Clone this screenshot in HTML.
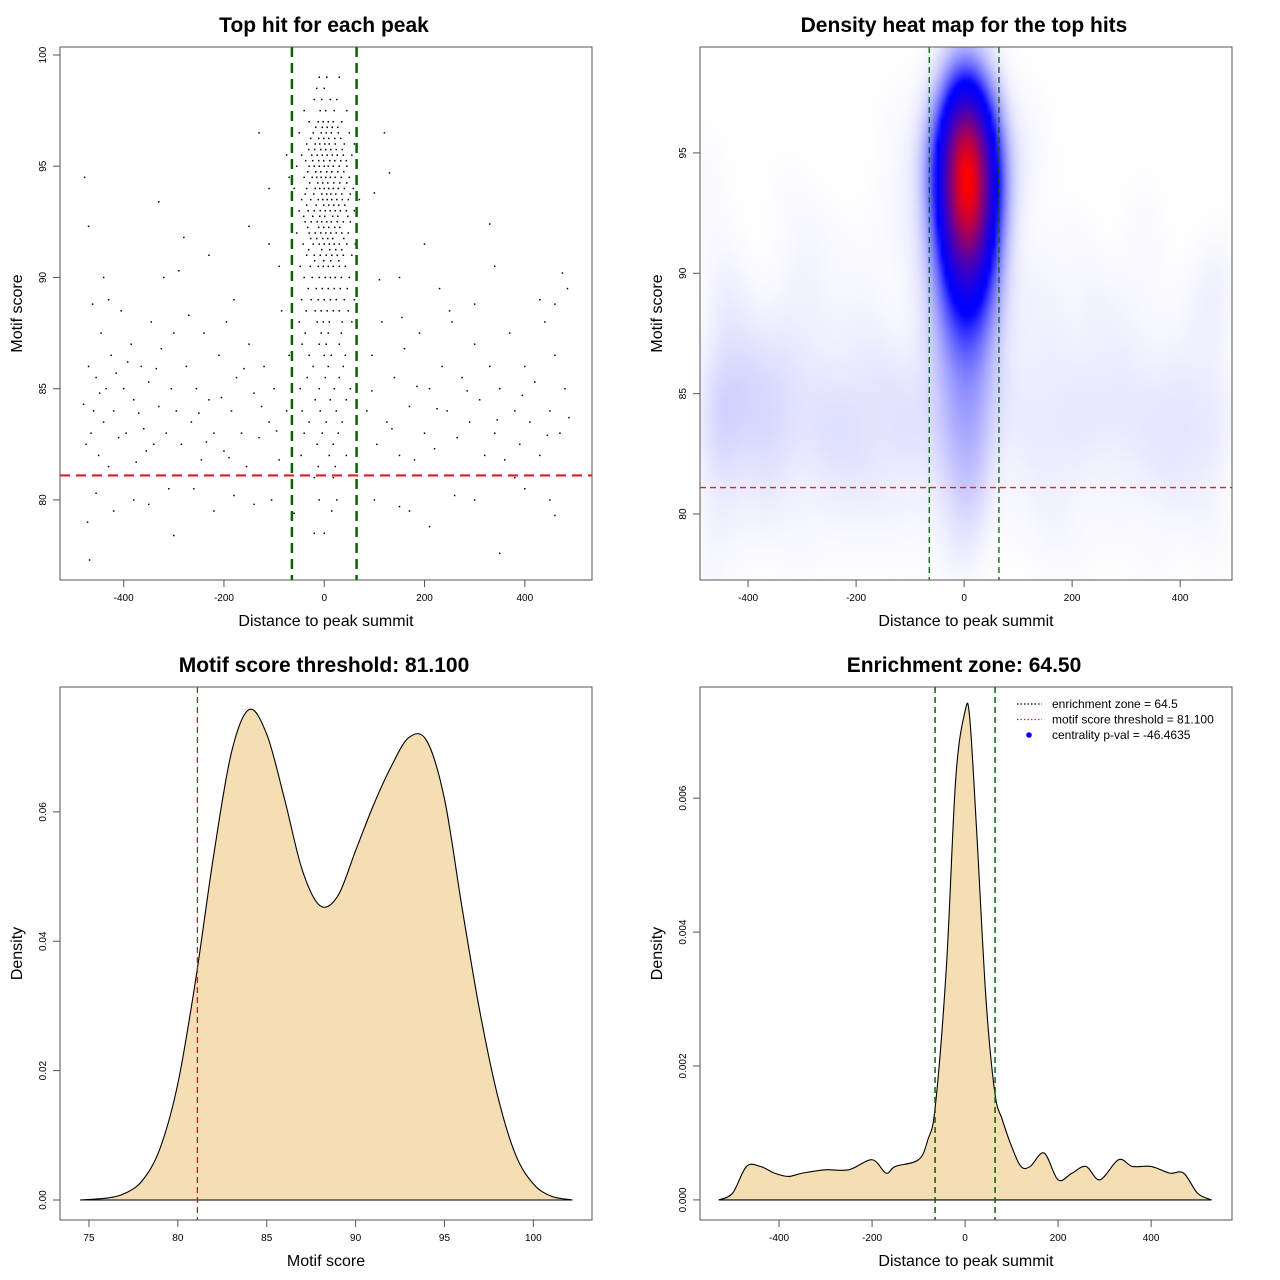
<!DOCTYPE html>
<html><head><meta charset="utf-8"><style>
body{margin:0;background:#fff}
svg text{font-family:"Liberation Sans",sans-serif}
</style></head><body>
<div style="position:relative;width:1280px;height:1280px">
<canvas id="heat" width="133" height="133" style="position:absolute;left:700px;top:47px;width:532px;height:533px"></canvas>
<svg id="fig" width="1280" height="1280" style="position:absolute;left:0;top:0"></svg>
</div>
<script>
// ---------- data ----------
const bgPoints=[[-480,84.3],[-475,82.5],[-470,86],[-465,83],[-460,84],[-455,85.5],[-450,82],[-445,87.5],[-440,83.5],[-435,85],[-430,81.5],[-425,86.5],[-420,84],[-410,82.8],[-405,88.5],[-400,85],[-395,83],[-385,87],[-380,84.5],[-375,81.7],[-365,86],[-360,83.2],[-350,85.3],[-345,88],[-340,82.5],[-330,84.2],[-325,86.8],[-315,83],[-310,80.5],[-305,85],[-300,87.5],[-478,94.5],[-470,92.3],[-472,79],[-468,77.3],[-455,80.3],[-430,89],[-420,79.5],[-380,80],[-350,79.8],[-330,93.4],[-320,90],[-290,90.3],[-280,91.8],[-270,88.3],[-440,90],[-462,88.8],[-448,84.8],[-415,85.7],[-392,86.2],[-370,83.9],[-355,82.2],[-335,85.9],[-295,84],[-285,82.5],[-275,86],[-265,83.5],[-255,85],[-245,81.8],[-240,87.5],[-230,84.5],[-220,83],[-210,86.5],[-200,82.2],[-195,88],[-185,84],[-175,85.5],[-165,83],[-155,81.5],[-150,87],[-140,84.8],[-130,82.8],[-120,86],[-110,83.5],[-100,85],[-90,81.8],[-85,88.5],[-75,84],[-70,86.5],[-260,80.5],[-220,79.5],[-180,80.2],[-140,79.8],[-105,80],[-60,79.4],[-300,78.4],[-230,91],[-180,89],[-110,91.5],[-90,90.5],[-150,92.3],[-70,94.5],[-130,96.5],[-75,95.5],[-110,94],[-250,83.9],[-205,84.6],[-160,85.9],[-125,84.2],[-95,83.1],[-235,82.6],[-190,81.9],[85,84],[95,86.5],[105,82.5],[115,88],[125,83.5],[140,85.5],[150,82],[160,86.8],[170,84.2],[180,81.8],[190,87.5],[200,83],[210,85],[220,82.3],[235,86],[245,84],[255,88],[265,82.8],[275,85.5],[290,83.5],[300,87],[310,84.5],[320,82],[330,86],[340,83],[350,85],[360,81.8],[370,87.5],[380,84],[390,82.5],[400,86],[410,83.5],[420,85.3],[430,82],[440,88],[450,84],[460,86.5],[470,83],[480,85],[485,89.5],[475,90.2],[460,88.8],[430,89],[330,92.4],[340,90.5],[300,88.8],[200,91.5],[150,90],[130,94.7],[120,96.5],[100,93.8],[170,79.5],[210,78.8],[260,80.2],[300,80],[350,77.6],[380,81],[450,80],[100,80],[150,79.7],[400,80.5],[460,79.3],[230,89.5],[250,88.5],[95,84.9],[135,83.2],[185,85.1],[225,84.1],[285,84.9],[345,83.6],[395,84.7],[445,82.9],[488,83.7],[155,88.2],[110,89.9]];
const clusterRows=[[99,[-10,5,30]],[98.5,[-15,0]],[98,[-20,-5,12,25]],[97.5,[-40,-8,3,20,45]],[97,[-30,-12,-2,8,18,35]],[96.75,[-17,-4,6,16,27]],[96.5,[-50,-22,-6,4,14,28,50]],[96.25,[-27,-11,-1,9,21,33]],[96,[-35,-18,-9,1,10,22,40,60]],[95.75,[-31,-19,-7,3,13,24,36]],[95.5,[-45,-25,-14,-4,6,16,26,38,55]],[95.25,[-37,-23,-11,-1,11,21,33,44]],[95,[-55,-30,-20,-10,0,8,18,30,45,65]],[94.75,[-33,-17,-7,5,15,27,39]],[94.5,[-40,-24,-15,-6,3,12,22,34,50]],[94.25,[-29,-13,-3,7,19,31,45]],[94,[-60,-35,-18,-9,0,9,18,28,40,58]],[93.75,[-38,-21,-5,5,13,23,35,52]],[93.5,[-45,-27,-12,-3,6,15,25,36,48,70]],[93.25,[-35,-16,-1,9,19,29,41]],[93,[-50,-32,-20,-8,2,12,22,32,44,60]],[92.75,[-41,-23,-9,1,17,27,47]],[92.5,[-38,-26,-14,-5,5,14,26,38,52]],[92.25,[-33,-11,-1,9,21,31]],[92,[-55,-30,-18,-7,3,13,24,35,48]],[91.75,[-27,-15,-3,7,17,39]],[91.5,[-42,-22,-10,0,10,20,30,45,62]],[91.25,[-31,-5,11,23,35]],[91,[-35,-20,-8,4,15,26,38,55]],[90.75,[-19,-1,13,29]],[90.5,[-48,-28,-12,-2,8,18,30,42]],[90,[-40,-24,-10,2,12,22,34,50]],[89.5,[-32,-16,-4,8,20,32,46]],[89,[-45,-26,-12,0,12,24,40,60]],[88.5,[-36,-18,-6,6,18,30,48]],[88,[-50,-14,-2,10,36,55]],[87.5,[-38,-6,8,34]],[87,[-44,-10,4,30]],[86.5,[-30,0,14,42]],[86,[-22,8,38]],[85.5,[-34,2,30]],[85,[-48,-10,20,52]],[84.5,[-18,12,44]],[84,[-44,-8,24]],[83.5,[-30,4,36]],[83,[-40,-4,28]],[82.5,[-14,18]],[82,[-46,10,44]],[81.5,[-12,22]],[81,[-20,18]],[80,[-10,25]],[79.5,[15]],[78.5,[0,-20]]];
const scoreX=[74.5,76,77,78,79,80,81,82,83,84,85,86,87,88,89,90,91,92,93,94,95,96,97,98,99,100,101,102.2];
const scoreDensity=[0,0.0003,0.001,0.003,0.008,0.018,0.034,0.053,0.069,0.0758,0.072,0.062,0.051,0.0455,0.047,0.054,0.061,0.067,0.0715,0.071,0.062,0.045,0.029,0.016,0.007,0.0025,0.0006,0];
const distX=[-530,-500,-470,-440,-410,-380,-350,-300,-250,-200,-170,-150,-100,-80,-64,-40,-20,0,10,25,45,64,80,100,120,140,170,200,230,260,290,330,360,400,440,470,500,530];
const distDensity=[0,0.0001,0.0005,0.0005,0.0004,0.00035,0.0004,0.00045,0.00045,0.0006,0.0004,0.0005,0.0006,0.0009,0.0014,0.0035,0.0063,0.0073,0.0072,0.0055,0.003,0.0016,0.0012,0.0008,0.0005,0.0005,0.0007,0.0003,0.0004,0.0005,0.0003,0.0006,0.0005,0.0005,0.0004,0.0004,0.0001,0];
const xTicksDist=[-400,-200,0,200,400];
const scoreThreshold=81.1, zone=64.5;

// ---------- helpers ----------
const NS="http://www.w3.org/2000/svg", svg=document.getElementById('fig');
function el(tag,attrs,parent,text){const e=document.createElementNS(NS,tag);for(const k in attrs)e.setAttribute(k,attrs[k]);if(text!==undefined)e.textContent=text;(parent||svg).appendChild(e);return e;}
function panel(p){p.sx=v=>p.l+(v-p.x0)/(p.x1-p.x0)*p.w;p.sy=v=>p.t+p.h-(v-p.y0)/(p.y1-p.y0)*p.h;return p;}
function axes(p,name,title,xlab,ylab,xt,yt,yfmt){
  const g=el('g',{},svg);
  const box=el('rect',{x:p.l,y:p.t,width:p.w,height:p.h,fill:'none',stroke:'#555','stroke-width':1},g);
  
  const xa=el('g',{},g);
  const b=p.t+p.h;
  el('line',{x1:p.sx(xt[0]),x2:p.sx(xt[xt.length-1]),y1:b,y2:b,stroke:'#555'},xa);
  xt.forEach(v=>{el('line',{x1:p.sx(v),x2:p.sx(v),y1:b,y2:b+7,stroke:'#555'},xa);
    const t=el('text',{x:p.sx(v),y:b+21,'font-size':10,'text-anchor':'middle'},xa,String(v));});
  const ya=el('g',{},g);
  el('line',{x1:p.l,x2:p.l,y1:p.sy(yt[0]),y2:p.sy(yt[yt.length-1]),stroke:'#555'},ya);
  yt.forEach(v=>{const y=p.sy(v);el('line',{x1:p.l-7,x2:p.l,y1:y,y2:y,stroke:'#555'},ya);
    const t=el('text',{x:p.l-14,y:y,'font-size':10,'text-anchor':'middle',transform:`rotate(-90 ${p.l-14} ${y})`},ya,yfmt(v));});
  const tt=el('text',{x:p.l+p.w/2-2,y:p.t-15,'font-size':21,'font-weight':'bold','text-anchor':'middle'},g,title);
  const xl=el('text',{x:p.l+p.w/2,y:b+46,'font-size':16,'text-anchor':'middle'},g,xlab);
  const yx=p.l-38,yy=p.t+p.h/2;
  const yl=el('text',{x:yx,y:yy,'font-size':16,'text-anchor':'middle',transform:`rotate(-90 ${yx} ${yy})`},g,ylab);
  return g;
}
function hline(p,v,col,w,dash,name){const l=el('line',{x1:p.l,x2:p.l+p.w,y1:p.sy(v),y2:p.sy(v),stroke:col,'stroke-width':w,'stroke-dasharray':dash});}
function vline(p,v,col,w,dash,name){const l=el('line',{x1:p.sx(v),x2:p.sx(v),y1:p.t,y2:p.t+p.h,stroke:col,'stroke-width':w,'stroke-dasharray':dash});}
function dens(p,xs,ys,name){let d=`M${p.sx(xs[0])},${p.sy(ys[0])}`;for(let i=1;i<xs.length;i++){
  const x0=xs[Math.max(i-2,0)],y0=ys[Math.max(i-2,0)],x1=xs[i-1],y1=ys[i-1],x2=xs[i],y2=ys[i],x3=xs[Math.min(i+1,xs.length-1)],y3=ys[Math.min(i+1,xs.length-1)];
  d+=` C${p.sx(x1+(x2-x0)/6)},${p.sy(y1+(y2-y0)/6)} ${p.sx(x2-(x3-x1)/6)},${p.sy(y2-(y3-y1)/6)} ${p.sx(x2)},${p.sy(y2)}`;}
  const a=el('path',{d:d+'Z',fill:'#f5deb3',stroke:'#000','stroke-width':1.1});}

const pts=bgPoints.slice();clusterRows.forEach(r=>r[1].forEach(x=>pts.push([x,r[0]])));

// ---------- panel 1 scatter ----------
const p1=panel({l:60,t:47,w:532,h:533,x0:-527,x1:534,y0:76.4,y1:100.36});
const s1=el('g',{});
pts.forEach(q=>{const c=el('rect',{x:p1.sx(q[0])-0.75,y:p1.sy(q[1])-0.75,width:1.5,height:1.5,fill:'#000'},s1);});
hline(p1,scoreThreshold,'#e02020',2.2,'10,6','threshold-line');
vline(p1,-zone,'#006400',2.5,'10,6','zone-left-line');vline(p1,zone,'#006400',2.5,'10,6','zone-right-line');
axes(p1,'top-hit-scatter','Top hit for each peak','Distance to peak summit','Motif score',xTicksDist,[80,85,90,95,100],v=>String(v));

// ---------- panel 2 heatmap ----------
const p2=panel({l:700,t:47,w:532,h:533,x0:-489,x1:496,y0:77.26,y1:99.4});
(function(){const cv=document.getElementById('heat'),ctx=cv.getContext('2d'),N=133,img=ctx.createImageData(N,N),grid=new Float32Array(N*N);
  const bx=28,by=1.6;let mx=0;
  for(let j=0;j<N;j++){const yv=p2.y1-(j+0.5)/N*(p2.y1-p2.y0);for(let i=0;i<N;i++){const xv=p2.x0+(i+0.5)/N*(p2.x1-p2.x0);let s=0;
    for(const q of pts){const dx=(q[0]-xv)/bx,dy=(q[1]-yv)/by;const e=dx*dx+dy*dy;if(e<16)s+=Math.exp(-0.5*e);}grid[j*N+i]=s;if(s>mx)mx=s;}}
  for(let k=0;k<N*N;k++){let t=grid[k]/mx;let r,g,b;
    if(t<0.4){const u=Math.pow(t/0.4,1.3);r=255*(1-u);g=255*(1-u);b=255;}else{const u=Math.pow(Math.min(1,(t-0.4)/0.6),1.5);r=255*u;g=0;b=255*(1-u);}
    img.data[k*4]=r;img.data[k*4+1]=g;img.data[k*4+2]=b;img.data[k*4+3]=255;}
  ctx.putImageData(img,0,0);})();
hline(p2,scoreThreshold,'#e02020',1.3,'6,4','threshold-line');
vline(p2,-zone,'#006400',1.3,'6,4','zone-left-line');vline(p2,zone,'#006400',1.3,'6,4','zone-right-line');
axes(p2,'density-heatmap-panel','Density heat map for the top hits','Distance to peak summit','Motif score',xTicksDist,[80,85,90,95],v=>String(v));

// ---------- panel 3 ----------
const p3=panel({l:60,t:687,w:532,h:533,x0:73.37,x1:103.3,y0:-0.00309,y1:0.0793});
dens(p3,scoreX,scoreDensity,'score-density-area');
vline(p3,scoreThreshold,'#b22222',1.3,'6,4','threshold-line');
axes(p3,'score-density-panel','Motif score threshold: 81.100','Motif score','Density',[75,80,85,90,95,100],[0,0.02,0.04,0.06],v=>v.toFixed(2));

// ---------- panel 4 ----------
const p4=panel({l:700,t:687,w:532,h:533,x0:-570,x1:574,y0:-0.0003,y1:0.00766});
dens(p4,distX,distDensity,'distance-density-area');
vline(p4,-zone,'#006400',1.5,'6,4','zone-left-line');vline(p4,zone,'#006400',1.5,'6,4','zone-right-line');
axes(p4,'distance-density-panel','Enrichment zone: 64.50','Distance to peak summit','Density',xTicksDist,[0,0.002,0.004,0.006],v=>v.toFixed(3));
const lg=el('g',{});
[['enrichment zone = 64.5','#000','line'],['motif score threshold = 81.100','#e02020','line'],['centrality p-val = -46.4635','#0000ff','dot']].forEach((e,i)=>{
  const y=704+i*15.5;const it=el('g',{},lg);
  if(e[2]==='line')el('line',{x1:1017,x2:1042,y1:y,y2:y,stroke:e[1],'stroke-dasharray':'1.5,2','stroke-width':1.2},it);
  else el('circle',{cx:1029,cy:y,r:2.8,fill:e[1]},it);
  el('text',{x:1052,y:y+4,'font-size':12},it,e[0]);});
</script>
</body></html>
